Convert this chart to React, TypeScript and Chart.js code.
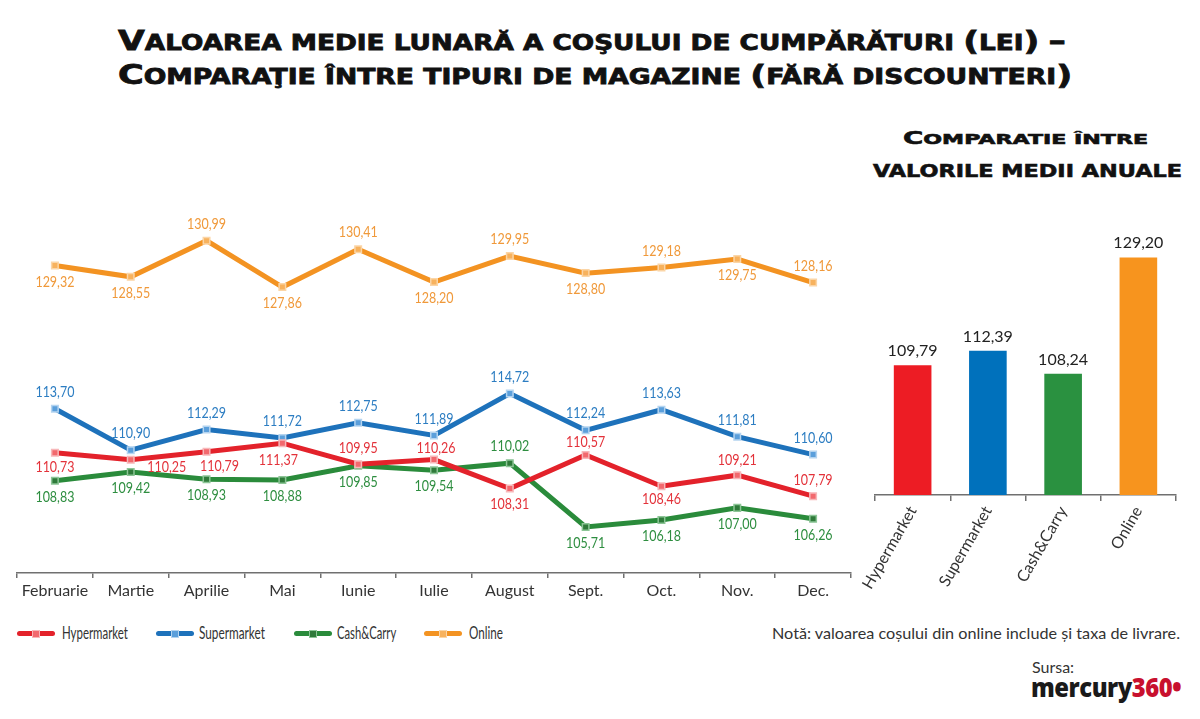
import React, { useEffect, useLayoutEffect, useRef } from 'react';
import { Chart, registerables } from 'chart.js';

Chart.register(...registerables);

// ---------- DATA ----------
const months = ['Februarie', 'Martie', 'Aprilie', 'Mai', 'Iunie', 'Iulie', 'August', 'Sept.', 'Oct.', 'Nov.', 'Dec.'];
const hypermarket = [110.73, 110.25, 110.79, 111.37, 109.95, 110.26, 108.31, 110.57, 108.46, 109.21, 107.79];
const supermarket = [113.7, 110.9, 112.29, 111.72, 112.75, 111.89, 114.72, 112.24, 113.63, 111.81, 110.6];
const cashCarry = [108.83, 109.42, 108.93, 108.88, 109.85, 109.54, 110.02, 105.71, 106.18, 107.0, 106.26];
const online = [129.32, 128.55, 130.99, 127.86, 130.41, 128.2, 129.95, 128.8, 129.18, 129.75, 128.16];

const seriesNames = ['Hypermarket', 'Supermarket', 'Cash&Carry', 'Online'];
const barCategories = ['Hypermarket', 'Supermarket', 'Cash&Carry', 'Online'];
const annualAverages = [109.79, 112.39, 108.24, 129.2];

// label placement (a = above, b = below)
const hyperPos = ['b', 'b', 'b', 'b', 'a', 'a', 'b', 'a', 'b', 'a', 'a'];
const superPos = ['a', 'a', 'a', 'a', 'a', 'a', 'a', 'a', 'a', 'a', 'a'];
const cashPos = ['b', 'b', 'b', 'b', 'b', 'b', 'a', 'b', 'b', 'b', 'b'];
const onlinePos = ['b', 'b', 'a', 'b', 'a', 'b', 'a', 'b', 'a', 'b', 'a'];
const hyperDx = [0, 36, 13, -4, 0, 2, 0, 0, 0, 0, 0];
const hyperDy = [14, 7, 14, 17, 16, 12, 15, 13, 13, 15, 16];

// ---------- STYLE ----------
const lineColors = ['#E3222B', '#1E72BB', '#2A8B3B', '#F39322'];
const labelColors = ['#E3323A', '#2C7DC2', '#2E8E40', '#F0993A'];
const pointFill = ['#F2696E', '#5B9FDB', '#2F7A3A', '#F7B25E'];
const pointEdge = ['#F7B7B9', '#B4D4F0', '#8CC596', '#FBD5A6'];
const barColors = ['#ED1C24', '#0071BC', '#2A9140', '#F7941E'];
const legendTextWidths = [66, 66, 59, 34];

const tickFont = 'Lato, sans-serif';

const fmt = (v: number) => v.toFixed(2).replace('.', ',');

function SmallCaps({ text, ratio }: { text: string; ratio: number }) {
  const out: any[] = [];
  let buf = '';
  let small: boolean | null = null;
  const flush = () => {
    if (!buf) return;
    if (small) out.push(<span key={out.length} style={{ fontSize: `${ratio}em` }}>{buf.toUpperCase()}</span>);
    else out.push(<span key={out.length}>{buf}</span>);
    buf = '';
  };
  for (const ch of text) {
    const s = ch !== ch.toUpperCase() || ch === ' ';
    if (small === null) small = s;
    if (s !== small) {
      flush();
      small = s;
    }
    buf += ch;
  }
  flush();
  return <>{out}</>;
}

function FitText({ left, top, width, style, children }: any) {
  const ref = useRef<HTMLDivElement>(null);
  useLayoutEffect(() => {
    const el = ref.current;
    if (!el) return;
    el.style.transform = 'none';
    const nat = el.offsetWidth;
    if (nat > 0) el.style.transform = `scaleX(${width / nat})`;
  }, [width]);
  return (
    <div
      ref={ref}
      style={{
        position: 'absolute',
        left,
        top,
        whiteSpace: 'nowrap',
        transformOrigin: 'left top',
        lineHeight: 1,
        ...style,
      }}
    >
      {children}
    </div>
  );
}

function LineChart() {
  const ref = useRef<HTMLCanvasElement>(null);
  useEffect(() => {
    if (!ref.current) return;
    const seriesData = [hypermarket, supermarket, cashCarry, online];
    const positions = [hyperPos, superPos, cashPos, onlinePos];
    const labelPlugin = {
      id: 'lineLabels',
      afterDatasetsDraw(chart: any) {
        const ctx = chart.ctx;
        chart.data.datasets.forEach((ds: any, i: number) => {
          const meta = chart.getDatasetMeta(i);
          meta.data.forEach((pt: any, j: number) => {
            const above = positions[i][j] === 'a';
            const dx = i === 0 ? hyperDx[j] : 0;
            const dy = i === 0 ? hyperDy[j] : above ? 17 : 16;
            ctx.save();
            ctx.font = `16px ${tickFont}`;
            ctx.textAlign = 'center';
            ctx.textBaseline = 'middle';
            ctx.fillStyle = labelColors[i];
            ctx.translate(pt.x + dx, pt.y + (above ? -dy : dy));
            ctx.scale(0.78, 1);
            ctx.fillText(fmt(ds.data[j]), 0, 0);
            ctx.restore();
          });
        });
      },
    };
    const chart = new Chart(ref.current, {
      type: 'line',
      data: {
        labels: months,
        datasets: seriesData.map((d, i) => ({
          label: seriesNames[i],
          data: d,
          yAxisID: i === 3 ? 'yOnline' : 'y',
          borderColor: lineColors[i],
          borderWidth: 5,
          tension: 0,
          pointStyle: 'rect',
          pointRadius: 4.6,
          pointBorderWidth: 1.5,
          pointBackgroundColor: pointFill[i],
          pointBorderColor: pointEdge[i],
        })),
      },
      options: {
        animation: false,
        responsive: false,
        layout: { padding: { left: 17, right: 9, top: 10, bottom: 0 } },
        plugins: { legend: { display: false }, tooltip: { enabled: false } },
        scales: {
          x: {
            offset: true,
            grid: { offset: true, drawOnChartArea: false, drawTicks: true, tickLength: 5, color: '#707070', lineWidth: 1.5 },
            border: { display: true, color: '#707070', width: 1.5 },
            ticks: { color: '#333', font: { family: tickFont, size: 16 }, padding: 3, maxRotation: 0, autoSkip: false },
            afterFit: (s: any) => {
              s.height = 37;
            },
          },
          y: { display: false, min: 102.6, max: 127.8 },
          yOnline: { display: false, min: 108.54, max: 133.74 },
        },
      },
      plugins: [labelPlugin],
    } as any);
    return () => chart.destroy();
  }, []);
  return <canvas ref={ref} width={860} height={420} style={{ position: 'absolute', left: 0, top: 190 }} />;
}

function BarChart() {
  const ref = useRef<HTMLCanvasElement>(null);
  useEffect(() => {
    if (!ref.current) return;
    const valuePlugin = {
      id: 'barValues',
      afterDatasetsDraw(chart: any) {
        const ctx = chart.ctx;
        ctx.save();
        ctx.font = `16px ${tickFont}`;
        ctx.fillStyle = '#222';
        ctx.textAlign = 'center';
        ctx.textBaseline = 'alphabetic';
        const meta = chart.getDatasetMeta(0);
        meta.data.forEach((bar: any, j: number) => {
          ctx.fillText(fmt(chart.data.datasets[0].data[j]), bar.x, bar.y - 9);
        });
        ctx.restore();
      },
    };
    const chart = new Chart(ref.current, {
      type: 'bar',
      data: {
        labels: barCategories,
        datasets: [
          {
            data: annualAverages,
            backgroundColor: barColors,
            borderWidth: 0,
            barPercentage: 0.5,
            categoryPercentage: 1,
          },
        ],
      },
      options: {
        animation: false,
        responsive: false,
        layout: { padding: { left: 35, right: 24, top: 10, bottom: 0 } },
        plugins: { legend: { display: false }, tooltip: { enabled: false } },
        scales: {
          x: {
            grid: { offset: true, drawOnChartArea: false, drawTicks: true, tickLength: 6, color: '#707070', lineWidth: 1.5 },
            border: { display: true, color: '#707070', width: 1.5 },
            ticks: { color: '#333', font: { family: tickFont, size: 16 }, padding: 2, minRotation: 60, maxRotation: 60, autoSkip: false },
            afterFit: (s: any) => {
              s.height = 105;
            },
          },
          y: { display: false, min: 86.4, max: 139.55 },
        },
      },
      plugins: [valuePlugin],
    } as any);
    return () => chart.destroy();
  }, []);
  return <canvas ref={ref} width={360} height={410} style={{ position: 'absolute', left: 840, top: 190 }} />;
}

function LegendItem({ left, i, textLeft }: { left: number; i: number; textLeft: number }) {
  return (
    <>
      <div
        style={{
          position: 'absolute',
          left,
          top: 631,
          width: 38,
          height: 5,
          borderRadius: 3,
          background: lineColors[i],
        }}
      />
      <div
        style={{
          position: 'absolute',
          left: left + 15,
          top: 629.5,
          width: 6,
          height: 6,
          background: pointFill[i],
          border: `1.5px solid ${pointEdge[i]}`,
        }}
      />
      <FitText left={textLeft} top={624} width={legendTextWidths[i]} style={{ fontFamily: tickFont, fontSize: 17.5, color: '#333' }}>
        {seriesNames[i]}
      </FitText>
    </>
  );
}

export default function App() {
  const titleFont: any = {
    fontFamily: "'DejaVu Sans', sans-serif",
    fontWeight: 'bold',
    color: '#111',
    fontSize: 27.4,
    WebkitTextStroke: '0.8px #111',
  };
  const subFont: any = {
    fontFamily: "'DejaVu Sans', sans-serif",
    fontWeight: 'bold',
    color: '#111',
    fontSize: 17.5,
    WebkitTextStroke: '0.6px #111',
  };
  return (
    <div
      style={{
        position: 'absolute',
        left: 0,
        top: 0,
        width: 1200,
        height: 719,
        background: '#fff',
        overflow: 'hidden',
      }}
    >
      <FitText left={118} top={27} width={948} style={titleFont}>
        <SmallCaps text="Valoarea medie lunară a coşului de cumpărături (lei) –" ratio={0.76} />
      </FitText>
      <FitText left={118} top={61} width={954} style={titleFont}>
        <SmallCaps text="Comparaţie între tipuri de magazine (fără discounteri)" ratio={0.76} />
      </FitText>

      <FitText left={903} top={130} width={245} style={subFont}>
        <SmallCaps text="Comparatie între" ratio={0.8} />
      </FitText>
      <FitText left={873} top={163} width={309} style={subFont}>
        VALORILE MEDII ANUALE
      </FitText>

      <LineChart />
      <BarChart />

      <LegendItem left={17} i={0} textLeft={62} />
      <LegendItem left={156} i={1} textLeft={199} />
      <LegendItem left={294} i={2} textLeft={337} />
      <LegendItem left={424} i={3} textLeft={469} />

      <FitText left={772} top={625} width={408} style={{ fontFamily: tickFont, fontSize: 16, color: '#333' }}>
        Notă: valoarea coșului din online include și taxa de livrare.
      </FitText>
      <div
        style={{
          position: 'absolute',
          left: 1032,
          top: 659,
          fontFamily: tickFont,
          fontSize: 16,
          color: '#333',
          lineHeight: 1,
        }}
      >
        Sursa:
      </div>
      <FitText left={1031} top={674} width={150} style={{ fontFamily: "'Open Sans', sans-serif", fontWeight: 800, fontSize: 26, letterSpacing: -0.5 }}>
        <span style={{ color: '#1a1a1a' }}>mercury</span>
        <span style={{ color: '#C8102E' }}>360</span>
        <span style={{ color: '#C8102E' }}>•</span>
      </FitText>
    </div>
  );
}
